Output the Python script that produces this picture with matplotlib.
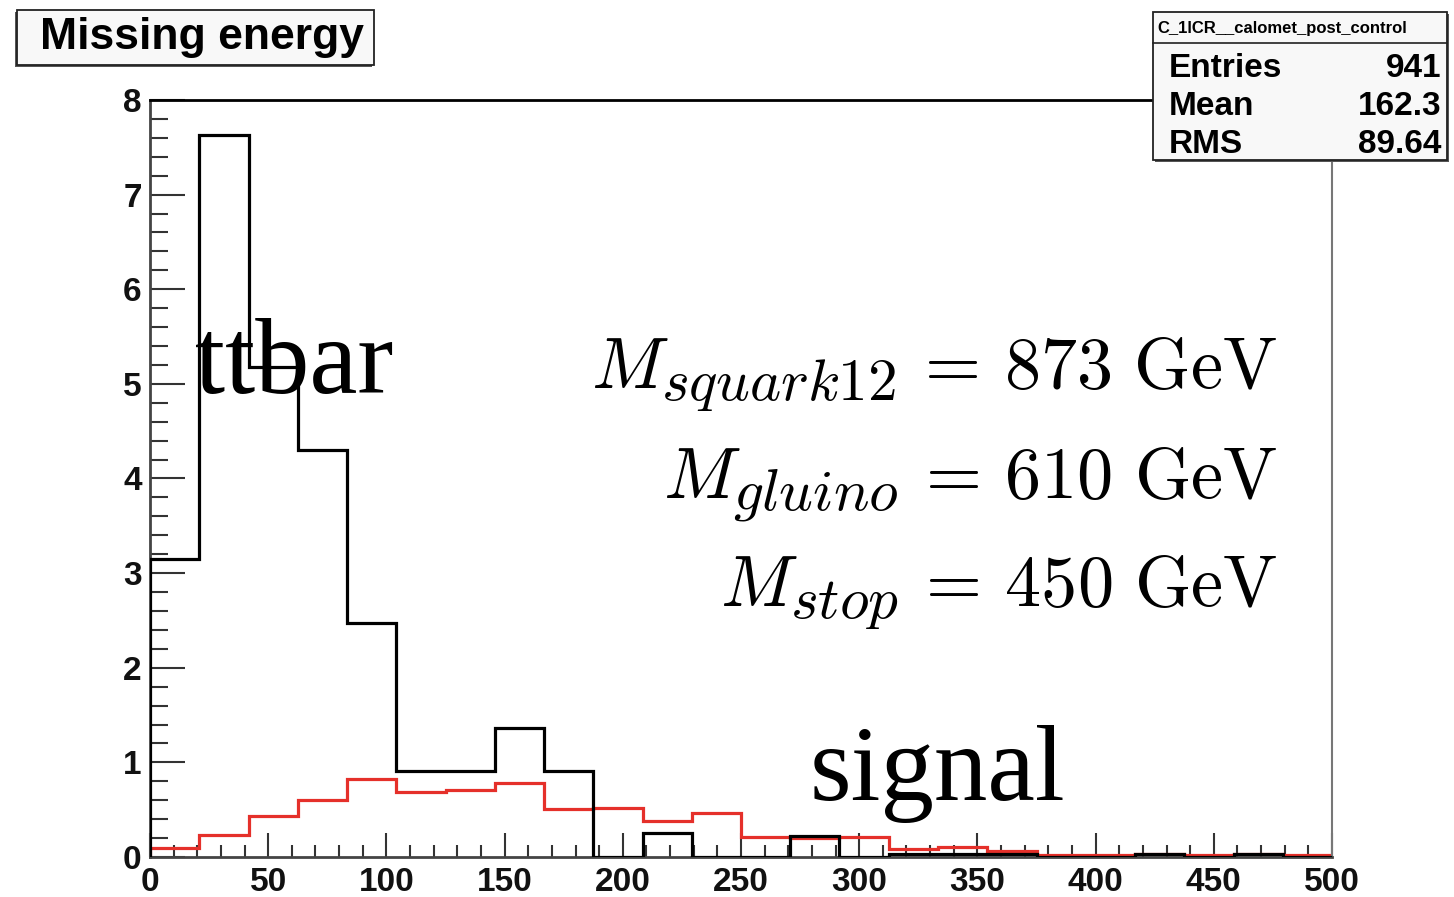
import matplotlib
matplotlib.use("Agg")
import matplotlib.pyplot as plt
import matplotlib._mathtext as mt
from matplotlib.patches import Rectangle
from matplotlib.lines import Line2D
import numpy as np

# Histogram data (24 bins, 0-500 GeV)
bin_edges = np.linspace(0, 500, 25)
ttbar = [3.15, 7.63, 5.18, 4.30, 2.47, 0.91, 0.91, 1.36, 0.91, 0.0, 0.25, 0.0,
         0.0, 0.22, 0.0, 0.03, 0.03, 0.03, 0.0, 0.0, 0.03, 0.0, 0.03, 0.0]
signal = [0.09, 0.23, 0.43, 0.60, 0.82, 0.69, 0.71, 0.78, 0.51, 0.52, 0.38, 0.46,
          0.21, 0.20, 0.21, 0.08, 0.11, 0.06, 0.02, 0.02, 0.03, 0.02, 0.03, 0.02]

title = "Missing energy"
stats_name = "C_1lCR__calomet_post_control"
stats_labels = ["Entries", "Mean", "RMS"]
stats_values = ["941", "162.3", "89.64"]
mass_lines = [r"$M_{squark12}\,=\,873\ \mathrm{GeV}$",
              r"$M_{gluino}\,=\,610\ \mathrm{GeV}$",
              r"$M_{stop}\,=\,450\ \mathrm{GeV}$"]

W, H = 1454, 897
plt.rcParams['mathtext.fontset'] = 'cm'
mt.SHRINK_FACTOR = 0.82  # bigger subscripts, like the LaTeX original
fig = plt.figure(figsize=(W / 100, H / 100), dpi=100)
fig.patch.set_facecolor('white')

def px(x0, y0, w, h):
    # pixel box (top-left origin) -> figure fraction
    return (x0 / W, 1 - (y0 + h) / H, w / W, h / H)

l, b, w, h = px(150, 100, 1182, 757)
ax = fig.add_axes([l, b, w, h])

ax.stairs(ttbar, bin_edges, color='black', lw=2.3, zorder=3)
ax.stairs(signal, bin_edges, color='#e5302a', lw=2.3, zorder=2)

ax.set_xlim(0, 500)
ax.set_ylim(0, 8)
ax.set_xticks(np.arange(0, 501, 50))
ax.set_xticks(np.arange(0, 501, 10), minor=True)
ax.set_yticks(np.arange(0, 9, 1))
ax.set_yticks(np.arange(0, 8.01, 0.2), minor=True)

tick_font = {'family': 'Liberation Sans', 'weight': 'bold', 'size': 24}
ax.tick_params(axis='x', which='major', direction='in', length=17, width=1.5,
               color='#333333', pad=7)
ax.tick_params(axis='x', which='minor', direction='in', length=8.5, width=1.5,
               color='#333333')
ax.tick_params(axis='y', which='major', direction='in', length=25, width=1.5,
               color='#333333', pad=6)
ax.tick_params(axis='y', which='minor', direction='in', length=13, width=1.5,
               color='#333333')
for lab in ax.get_xticklabels() + ax.get_yticklabels():
    lab.set_fontproperties(tick_font)
    lab.set_color('#111111')

for side in ['left', 'bottom']:
    ax.spines[side].set_color('#444444')
    ax.spines[side].set_linewidth(2)
ax.spines['top'].set_color('black')
ax.spines['top'].set_linewidth(2)
ax.spines['right'].set_color('#777777')
ax.spines['right'].set_linewidth(1.5)

# big labels
ax.text(19, 4.9, "ttbar", family='Liberation Serif', fontsize=78,
        va='baseline', ha='left', zorder=5)
ax.text(279, 0.6, "signal", family='Liberation Serif', fontsize=77,
        va='baseline', ha='left', zorder=5)
for yv, s in zip([4.96, 3.80, 2.66], mass_lines):
    ax.text(477, yv, s, fontsize=52, va='baseline', ha='right', zorder=5)

# title box
fig.patches.append(Rectangle(px(15, 12, 357, 55)[:2], 357 / W, 55 / H,
                             transform=fig.transFigure, facecolor='#555555',
                             edgecolor='none', zorder=1))
fig.patches.append(Rectangle(px(17, 10, 357, 55)[:2], 357 / W, 55 / H,
                             transform=fig.transFigure, facecolor='#f8f8f8',
                             edgecolor='#222222', lw=1.3, zorder=1))
fig.text(40 / W, 1 - 38 / H, title, family='Liberation Sans', weight='bold',
         fontsize=32, va='center', ha='left', zorder=3)

# stats box
fig.patches.append(Rectangle(px(1155, 14, 294, 148)[:2], 294 / W, 148 / H,
                             transform=fig.transFigure, facecolor='#555555',
                             edgecolor='none', zorder=1))
fig.patches.append(Rectangle(px(1153, 12, 294, 148)[:2], 294 / W, 148 / H,
                             transform=fig.transFigure, facecolor='#f8f8f8',
                             edgecolor='#222222', lw=1.3, zorder=1))
fig.add_artist(Line2D([1153 / W, 1447 / W], [1 - 43 / H, 1 - 43 / H],
                      transform=fig.transFigure, color='#222222', lw=1.2,
                      zorder=2))
fig.text(1157 / W, 1 - 29 / H, stats_name, family='Liberation Sans',
         weight='bold', fontsize=12, va='center', ha='left', zorder=3)
for i, (lab, val) in enumerate(zip(stats_labels, stats_values)):
    yb = 1 - (77 + 38 * i) / H
    fig.text(1169 / W, yb, lab, family='Liberation Sans', weight='bold',
             fontsize=24, va='baseline', ha='left', zorder=3)
    fig.text(1441 / W, yb, val, family='Liberation Sans', weight='bold',
             fontsize=24, va='baseline', ha='right', zorder=3)

fig.savefig("out.png", dpi=100, facecolor='white')
